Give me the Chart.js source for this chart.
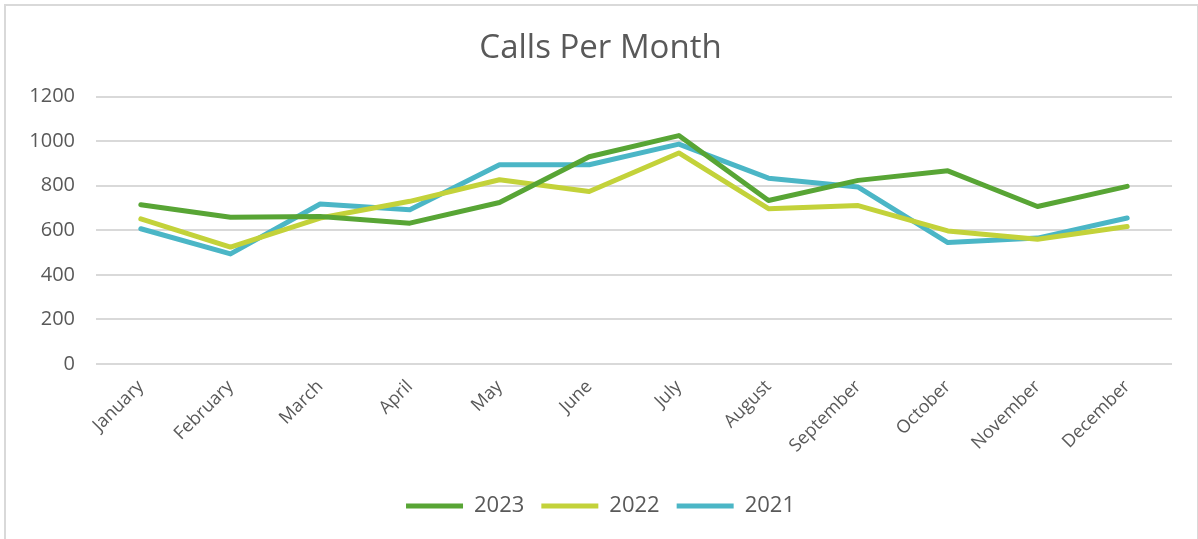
<!DOCTYPE html>
<html>
<head>
<meta charset="utf-8">
<script src="https://cdn.jsdelivr.net/npm/chart.js@4/dist/chart.umd.min.js"></script>
<style>
    html, body { margin: 0; padding: 0; background: #fff; overflow: hidden; }
    #frame { position: absolute; left: 4px; top: 4px; width: 1191px; height: 600px; border: 2px solid #d9d9d9; }
    #wrap { position: absolute; left: 0; top: 0; width: 1198px; height: 539px; }
</style>
</head>
<body>
<div id="frame"></div>
<div id="wrap"><canvas id="callsChart"></canvas></div>
<script>
const months = ['January', 'February', 'March', 'April', 'May', 'June', 'July', 'August', 'September', 'October', 'November', 'December'];
const calls2023 = [715, 659, 662, 632, 725, 930, 1025, 734, 824, 867, 707, 797];
const calls2022 = [651, 525, 655, 730, 827, 774, 947, 697, 711, 597, 560, 617];
const calls2021 = [607, 494, 718, 692, 894, 894, 987, 834, 794, 545, 565, 655];
const yTicks = [0, 200, 400, 600, 800, 1000, 1200];

const textColor = '#595959';
const fontFamily = '"Open Sans", "Liberation Sans", sans-serif';

function makeChart() {
    const parentNode = document.getElementById('callsChart');

    new Chart(parentNode, {
        type: 'line',
        data: {
            labels: months,
            datasets: [
                { label: '2023', data: calls2023, borderColor: '#58a535', backgroundColor: '#58a535' },
                { label: '2022', data: calls2022, borderColor: '#c3d23a', backgroundColor: '#c3d23a' },
                { label: '2021', data: calls2021, borderColor: '#4bb6c6', backgroundColor: '#4bb6c6' }
            ].map(ds => Object.assign(ds, {
                borderWidth: 5,
                tension: 0,
                pointRadius: 0,
                pointHoverRadius: 0,
                borderCapStyle: 'round',
                borderJoinStyle: 'round',
                fill: false
            }))
        },
        options: {
            responsive: true,
            maintainAspectRatio: false,
            animation: false,
            layout: {
                padding: { left: 29, right: 26, top: 19, bottom: 12 }
            },
            scales: {
                x: {
                    offset: true,
                    grid: { display: false },
                    border: { display: false },
                    ticks: {
                        color: textColor,
                        font: { family: fontFamily, size: 18 },
                        minRotation: 45,
                        maxRotation: 45,
                        padding: 4,
                        autoSkip: false
                    },
                    afterFit: function (axis) {
                        // the first rotated label may hang past the left edge, like in the original
                        axis.paddingLeft = 0;
                        axis.height = 114;
                    }
                },
                y: {
                    min: 0,
                    max: 1200,
                    afterBuildTicks: function (axis) {
                        axis.ticks = yTicks.map(v => ({ value: v }));
                    },
                    afterFit: function (axis) {
                        axis.width = 67;
                    },
                    grid: { color: '#d9d9d9', lineWidth: 2, drawTicks: false },
                    border: { display: false },
                    ticks: {
                        color: textColor,
                        font: { family: fontFamily, size: 20 },
                        padding: 21,
                        callback: function (value) {
                            return String(value);
                        }
                    }
                }
            },
            plugins: {
                title: {
                    display: true,
                    text: 'Calls Per Month',
                    color: textColor,
                    font: { family: fontFamily, size: 33, weight: 'normal' },
                    padding: { top: 10, bottom: 28 }
                },
                legend: {
                    position: 'bottom',
                    labels: {
                        usePointStyle: true,
                        pointStyle: 'line',
                        pointStyleWidth: 57,
                        color: textColor,
                        font: { family: fontFamily, size: 22 },
                        padding: 17
                    }
                },
                tooltip: { enabled: false }
            }
        }
    });
}

makeChart();
</script>
</body>
</html>
